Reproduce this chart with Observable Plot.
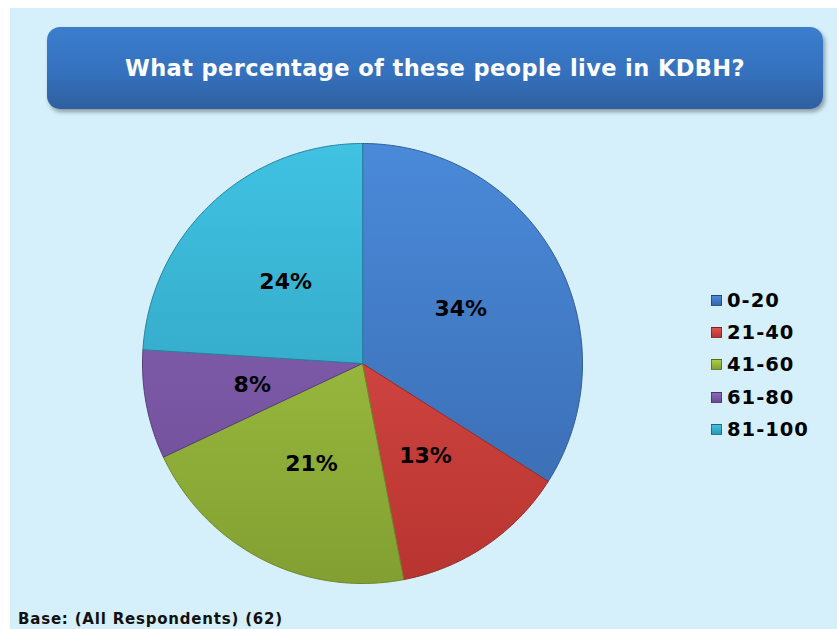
<!DOCTYPE html>
<html>
<head>
<meta charset="utf-8">
<script src="https://cdn.jsdelivr.net/npm/d3@7"></script>
<script src="https://cdn.jsdelivr.net/npm/@observablehq/plot@0.6"></script>
<style>
  html, body { margin: 0; padding: 0; background: #ffffff; }
  #wrap { position: relative; width: 837px; height: 629px; overflow: hidden; font-family: "DejaVu Sans", Verdana, sans-serif; }
  #bg { position: absolute; left: 10px; top: 8px; right: 0; bottom: 0; background: #d5f0fa; }
  #title { position: absolute; left: 47px; top: 27px; width: 776px; height: 82px; border-radius: 13px;
    background: linear-gradient(to bottom, #3b7ecd 0%, #3571be 55%, #2f5f9f 100%);
    box-shadow: 2px 3px 4px rgba(0,0,0,0.35); color: #fff; font-weight: bold; font-size: 22.5px;
    display: flex; align-items: center; justify-content: center; letter-spacing: 0.4px; }
  #chart { position: absolute; left: 0; top: 0; }
  #legend { position: absolute; left: 711px; top: 284px; }
  .item { display: flex; align-items: center; height: 32.3px; font-weight: bold; font-size: 19.5px; color: #000; letter-spacing: 1px; }
  .sw { width: 11px; height: 11px; margin-right: 5px; border: 1px solid rgba(0,0,0,0.35); box-sizing: border-box; }
  #base { position: absolute; left: 18px; top: 610px; font-weight: bold; font-size: 15px; color: #111; letter-spacing: 0.8px; }
</style>
</head>
<body>
<div id="wrap">
  <div id="bg"></div>
  <div id="title">What percentage of these people live in KDBH?</div>
  <div id="chart"></div>
  <div id="legend"></div>
  <div id="base">Base: (All Respondents) (62)</div>
</div>
<script>
const categories = ["0-20", "21-40", "41-60", "61-80", "81-100"];
const values = [34, 13, 21, 8, 24];
const labels = ["34%", "13%", "21%", "8%", "24%"];

const topColors = ["#4a8ad9", "#e2524e", "#aacd46", "#8b66ba", "#40c2e2"];
const bottomColors = ["#3868ad", "#b83430", "#82a032", "#6b4b92", "#2c98b5"];
const edgeColors = ["#2f5a96", "#952a27", "#6c8628", "#573c78", "#24809a"];

const total = d3.sum(values);
const W = 837, H = 629, CX = 362, CY = 363, R = 220;

// Build slice polygons on unit circle (angles clockwise from 12 o'clock)
const polys = [];
const labelPts = [];
let cum = 0;
values.forEach((v, i) => {
  const a0 = cum / total * 2 * Math.PI;
  cum += v;
  const a1 = cum / total * 2 * Math.PI;
  polys.push({i, x: 0, y: 0});
  const n = Math.max(2, Math.ceil((a1 - a0) / (Math.PI / 360)));
  for (let k = 0; k <= n; k++) {
    const a = a0 + (a1 - a0) * k / n;
    polys.push({i, x: Math.sin(a), y: Math.cos(a)});
  }
  const am = (a0 + a1) / 2;
  labelPts.push({label: labels[i], x: 0.51 * Math.sin(am), y: 0.51 * Math.cos(am)});
});

const marks = categories.map((c, i) =>
  Plot.line(polys.filter(p => p.i === i), {
    x: "x", y: "y", curve: "linear-closed",
    fill: `url(#grad${i})`, stroke: edgeColors[i], strokeWidth: 1
  })
);
marks.push(Plot.text(labelPts, {
  x: "x", y: "y", text: "label", fontSize: 22, fontWeight: "bold",
  fontFamily: "DejaVu Sans, Verdana, sans-serif", fill: "#000"
}));

const svg = Plot.plot({
  width: W, height: H,
  marginTop: 0, marginRight: 0, marginBottom: 0, marginLeft: 0,
  x: {domain: [-CX / R, (W - CX) / R], axis: null},
  y: {domain: [-(H - CY) / R, CY / R], axis: null},
  style: {background: "transparent", overflow: "visible"},
  marks
});

// gradients
const ns = "http://www.w3.org/2000/svg";
const defs = document.createElementNS(ns, "defs");
categories.forEach((c, i) => {
  const g = document.createElementNS(ns, "linearGradient");
  g.setAttribute("id", `grad${i}`);
  g.setAttribute("gradientUnits", "userSpaceOnUse");
  g.setAttribute("x1", 0); g.setAttribute("x2", 0);
  g.setAttribute("y1", CY - R); g.setAttribute("y2", CY + R);
  [[0, topColors[i]], [1, bottomColors[i]]].forEach(([o, col]) => {
    const s = document.createElementNS(ns, "stop");
    s.setAttribute("offset", o);
    s.setAttribute("stop-color", col);
    g.appendChild(s);
  });
  defs.appendChild(g);
});
svg.insertBefore(defs, svg.firstChild);
document.getElementById("chart").appendChild(svg);

// legend
const leg = document.getElementById("legend");
categories.forEach((c, i) => {
  const d = document.createElement("div");
  d.className = "item";
  const sw = document.createElement("div");
  sw.className = "sw";
  sw.style.background = `linear-gradient(to bottom, ${topColors[i]}, ${bottomColors[i]})`;
  const t = document.createElement("span");
  t.textContent = c;
  d.appendChild(sw); d.appendChild(t);
  leg.appendChild(d);
});
</script>
</body>
</html>
